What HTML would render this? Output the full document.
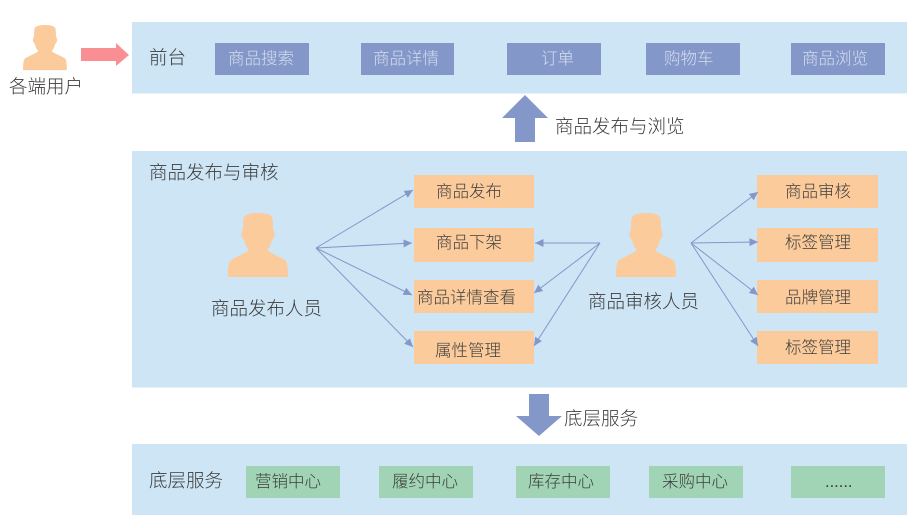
<!DOCTYPE html>
<html><head><meta charset="utf-8">
<style>
html,body{margin:0;padding:0;background:#fff}
svg{display:block}
text{font-family:"Liberation Sans","Noto Sans CJK SC",sans-serif;font-weight:300;fill:#3c3c3c}
.s{font-size:18.500px}
.m{font-size:16.500px}
.w{font-size:16.500px;fill:#d5deef}
.l{stroke:#8497c9;stroke-width:1;fill:none;marker-end:url(#a)}
</style></head><body>
<svg width="920" height="528" viewBox="0 0 920 528" xmlns="http://www.w3.org/2000/svg">
<defs>
<marker id="a" markerUnits="userSpaceOnUse" markerWidth="12" markerHeight="10" refX="8.500" refY="4" orient="auto"><path d="M0 0L8.500 4L0 8z" fill="#8497c9"/></marker>
<path id="p" fill="#fccb9b" d="M0 0C6 0 12 1 14 4C15 7 15 12 15 17C17 18 17 23 15.500 25C14.500 26 14 27 13.500 28C13 32 11 35 9 37C14 41 22 44 27 47C29 49 30 52 30 64L-30 64C-30 52 -29 49 -27 47C-22 44 -14 41 -9 37C-11 35 -13 32 -13.500 28C-14 27 -14.500 26 -15.500 25C-17 23 -17 18 -15 17C-15 12 -15 7 -14 4C-12 1 -6 0 0 0Z"/>
</defs>
<rect x="132" y="22" width="775" height="71.500" fill="#cde5f5"/>
<rect x="132" y="151" width="775" height="236.500" fill="#cde5f5"/>
<rect x="132" y="444" width="775" height="71" fill="#cde5f5"/>

<use href="#p" transform="translate(45,25) scale(.73,.705)"/>
<use href="#p" transform="translate(258,213)"/>
<use href="#p" transform="translate(646,213)"/>

<path d="M81 48H116V43L129 55L116 66V61H81Z" fill="#f98f93"/>
<path d="M525 95L548 118H535V142H515V118H502Z" fill="#8497c9"/>
<path d="M529 394H549V416H562L539 436L516 416H529Z" fill="#8497c9"/>

<g fill="#8497c9">
<rect x="215" y="43" width="94" height="32"/>
<rect x="361" y="43" width="93" height="32"/>
<rect x="507" y="43" width="94" height="32"/>
<rect x="646" y="43" width="94" height="32"/>
<rect x="791" y="43" width="94" height="32"/>
</g>
<g fill="#fccb9b">
<rect x="414" y="175" width="120" height="33"/>
<rect x="414" y="228" width="120" height="34"/>
<rect x="414" y="280" width="120" height="33"/>
<rect x="414" y="331" width="120" height="33"/>
<rect x="757" y="175" width="121" height="33"/>
<rect x="757" y="228" width="121" height="34"/>
<rect x="757" y="280" width="121" height="33"/>
<rect x="757" y="331" width="121" height="33"/>
</g>
<g fill="#a0d4b4">
<rect x="246" y="466" width="94" height="32"/>
<rect x="379" y="466" width="94" height="32"/>
<rect x="516" y="466" width="94" height="32"/>
<rect x="649" y="466" width="94" height="32"/>
<rect x="791" y="466" width="94" height="32"/>
</g>

<path class="l" d="M316 248L413 190"/>
<path class="l" d="M316 248L412 243"/>
<path class="l" d="M316 248L412 295"/>
<path class="l" d="M316 248L413 347"/>
<path class="l" d="M600 243L535 243"/>
<path class="l" d="M600 243L534 293"/>
<path class="l" d="M600 243L534 346"/>
<path class="l" d="M691 243L758 192"/>
<path class="l" d="M691 243L758 242"/>
<path class="l" d="M691 243L758 295"/>
<path class="l" d="M691 243L758 346"/>

<text class="s" x="9" y="93">各端用户</text>
<text class="s" x="149" y="64">前台</text>
<text class="w" x="228" y="64">商品搜索</text>
<text class="w" x="373" y="64">商品详情</text>
<text class="w" x="541" y="64">订单</text>
<text class="w" x="664" y="64">购物车</text>
<text class="w" x="802" y="64">商品浏览</text>
<text class="s" x="555" y="133">商品发布与浏览</text>
<text class="s" x="149" y="179">商品发布与审核</text>
<text class="s" x="211" y="315">商品发布人员</text>
<text class="s" x="588" y="308">商品审核人员</text>
<text class="m" x="436" y="197">商品发布</text>
<text class="m" x="436" y="248">商品下架</text>
<text class="m" x="417" y="303">商品详情查看</text>
<text class="m" x="435" y="356">属性管理</text>
<text class="m" x="785" y="197">商品审核</text>
<text class="m" x="785" y="248">标签管理</text>
<text class="m" x="785" y="303">品牌管理</text>
<text class="m" x="785" y="353">标签管理</text>
<text class="s" x="564" y="425">底层服务</text>
<text class="s" x="149" y="487">底层服务</text>
<text class="m" x="255" y="487">营销中心</text>
<text class="m" x="392" y="487">履约中心</text>
<text class="m" x="528" y="487">库存中心</text>
<text class="m" x="662" y="487">采购中心</text>
<text class="m" x="825" y="487">......</text>
</svg>
</body></html>
